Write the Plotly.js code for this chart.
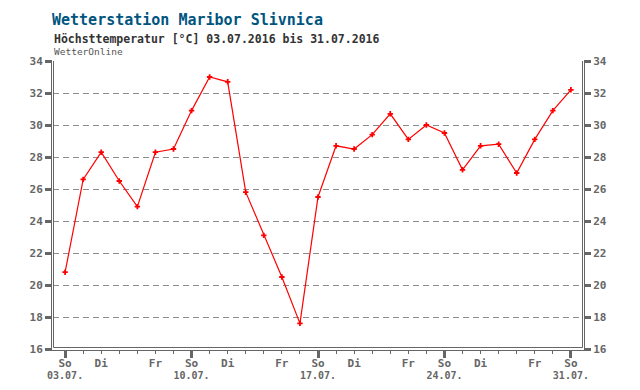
<!DOCTYPE html>
<html>
<head>
<meta charset="utf-8">
<script src="https://cdn.plot.ly/plotly-3.0.1.min.js"></script>
<style>html,body{margin:0;padding:0;background:#fff;}#chart{width:640px;height:390px;}</style>
</head>
<body>
<div id="chart"></div>
<script>
// ---- data ----
const dates = ['03.07.','04.07.','05.07.','06.07.','07.07.','08.07.','09.07.',
               '10.07.','11.07.','12.07.','13.07.','14.07.','15.07.','16.07.',
               '17.07.','18.07.','19.07.','20.07.','21.07.','22.07.','23.07.',
               '24.07.','25.07.','26.07.','27.07.','28.07.','29.07.','30.07.','31.07.'];
const weekdays = ['So','Mo','Di','Mi','Do','Fr','Sa','So','Mo','Di','Mi','Do','Fr','Sa',
                  'So','Mo','Di','Mi','Do','Fr','Sa','So','Mo','Di','Mi','Do','Fr','Sa','So'];
const labelledDays = ['So','Di','Fr'];
const tmax = [20.8,26.6,28.3,26.5,24.9,28.3,28.5,30.9,33.0,32.7,25.8,23.1,20.5,17.6,25.5,
              28.7,28.5,29.4,30.7,29.1,30.0,29.5,27.2,28.7,28.8,27.0,29.1,30.9,32.2];
const yTicks = [16,18,20,22,24,26,28,30,32,34];

const titleText = 'Wetterstation Maribor Slivnica';
const subtitleText = 'Höchsttemperatur [°C] 03.07.2016 bis 31.07.2016';
const sourceText = 'WetterOnline';

// ---- derived ----
const xIdx = dates.map((d, i) => i);
const sunIdx = xIdx.filter(i => weekdays[i] === 'So');
const sunDates = sunIdx.map(i => dates[i]);
const dayIdx = xIdx.filter(i => labelledDays.includes(weekdays[i]));
const dayText = dayIdx.map(i => weekdays[i]);

// ---- layout geometry ----
const W = 640, H = 390;
const M = {l: 53, r: 57, t: 61, b: 41};
const PW = W - M.l - M.r, PH = H - M.t - M.b;
const px = v => (v - M.l) / PW;            // pixel x -> paper
const py = v => (H - M.b - v) / PH;        // pixel y -> paper

const grey = '#666666';
const mono = 'DejaVu Sans Mono, Liberation Mono, monospace';
const tickFont = {family: mono, size: 11, color: grey, weight: 'bold'};
const dateFont = {family: mono, size: 10, color: grey, weight: 'bold'};

const traces = [
  {
    x: xIdx, y: tmax, type: 'scatter', mode: 'lines+markers',
    line: {color: '#ff0000', width: 1.2},
    marker: {symbol: 'cross', size: 4.5, color: '#ff0000', line: {width: 0}},
    xaxis: 'x', yaxis: 'y', showlegend: false, hoverinfo: 'x+y'
  },
  {
    x: xIdx, y: tmax, type: 'scatter', mode: 'none',
    xaxis: 'x2', yaxis: 'y2', showlegend: false, hoverinfo: 'skip'
  },
  {
    x: xIdx, y: tmax, type: 'scatter', mode: 'none',
    xaxis: 'x3', yaxis: 'y', showlegend: false, hoverinfo: 'skip'
  }
];

const range = [-0.67, 28.67];
const clear = 'rgba(0,0,0,0)';

const layout = {
  width: W, height: H,
  margin: M,
  paper_bgcolor: '#ffffff', plot_bgcolor: '#ffffff',
  showlegend: false,
  title: {
    text: titleText,
    font: {family: mono, size: 15, color: '#00557f', weight: 'bold'},
    x: 52 / W, xanchor: 'left', xref: 'container',
    y: 1 - 20 / H, yanchor: 'middle', yref: 'container'
  },
  // tick marks: thick at Sundays, thin every day
  xaxis: {
    range: range, type: 'linear',
    tickmode: 'array', tickvals: sunIdx, showticklabels: false,
    ticks: 'outside', ticklen: 8, tickwidth: 3, tickcolor: grey,
    minor: {tickmode: 'linear', tick0: 0, dtick: 1, ticks: 'outside', ticklen: 4, tickwidth: 1, tickcolor: grey, showgrid: false},
    showgrid: false, zeroline: false, showline: false, fixedrange: true
  },
  // weekday labels
  xaxis2: {
    range: range, type: 'linear', overlaying: 'x', anchor: 'y', side: 'bottom',
    tickmode: 'array', tickvals: dayIdx, ticktext: dayText,
    ticks: 'outside', ticklen: 4, tickwidth: 1, tickcolor: clear,
    tickfont: tickFont,
    showgrid: false, zeroline: false, showline: false, fixedrange: true
  },
  // date labels under Sundays
  xaxis3: {
    range: range, type: 'linear', overlaying: 'x', anchor: 'y', side: 'bottom',
    tickmode: 'array', tickvals: sunIdx, ticktext: sunDates,
    ticks: 'outside', ticklen: 17, tickwidth: 1, tickcolor: clear,
    tickfont: dateFont,
    showgrid: false, zeroline: false, showline: false, fixedrange: true
  },
  yaxis: {
    range: [16, 34], tickmode: 'array', tickvals: yTicks,
    ticks: 'outside', ticklen: 7, tickwidth: 3, tickcolor: grey,
    tickfont: tickFont,
    showgrid: true, gridcolor: '#8c8c8c', gridwidth: 1, griddash: '6px,4px',
    zeroline: false, showline: false, fixedrange: true
  },
  yaxis2: {
    range: [16, 34], overlaying: 'y', side: 'right', anchor: 'x',
    tickmode: 'array', tickvals: yTicks,
    ticks: 'outside', ticklen: 7, tickwidth: 3, tickcolor: grey,
    tickfont: tickFont,
    showgrid: false, zeroline: false, showline: false, fixedrange: true
  },
  annotations: [
    {text: subtitleText, xref: 'paper', yref: 'paper', x: px(52), y: py(30),
     xanchor: 'left', yanchor: 'top', showarrow: false,
     font: {family: mono, size: 11.5, color: '#333333', weight: 'bold'}},
    {text: sourceText, xref: 'paper', yref: 'paper', x: px(52), y: py(44),
     xanchor: 'left', yanchor: 'top', showarrow: false,
     font: {family: mono, size: 9.5, color: '#555555'}}
  ],
  shapes: [
    {type: 'path', xref: 'paper', yref: 'paper', layer: 'above',
     path: `M ${px(53.5)},${py(61)} L ${px(53.5)},${py(347.5)} L ${px(582.5)},${py(347.5)} L ${px(582.5)},${py(61)}`,
     line: {color: grey, width: 1}},
    {type: 'path', xref: 'paper', yref: 'paper', layer: 'above',
     path: `M ${px(51.5)},${py(61)} L ${px(51.5)},${py(350.5)} L ${px(584.5)},${py(350.5)} L ${px(584.5)},${py(61)}`,
     line: {color: grey, width: 1}}
  ]
};

Plotly.newPlot('chart', traces, layout, {displayModeBar: false, staticPlot: true});
</script>
</body>
</html>
